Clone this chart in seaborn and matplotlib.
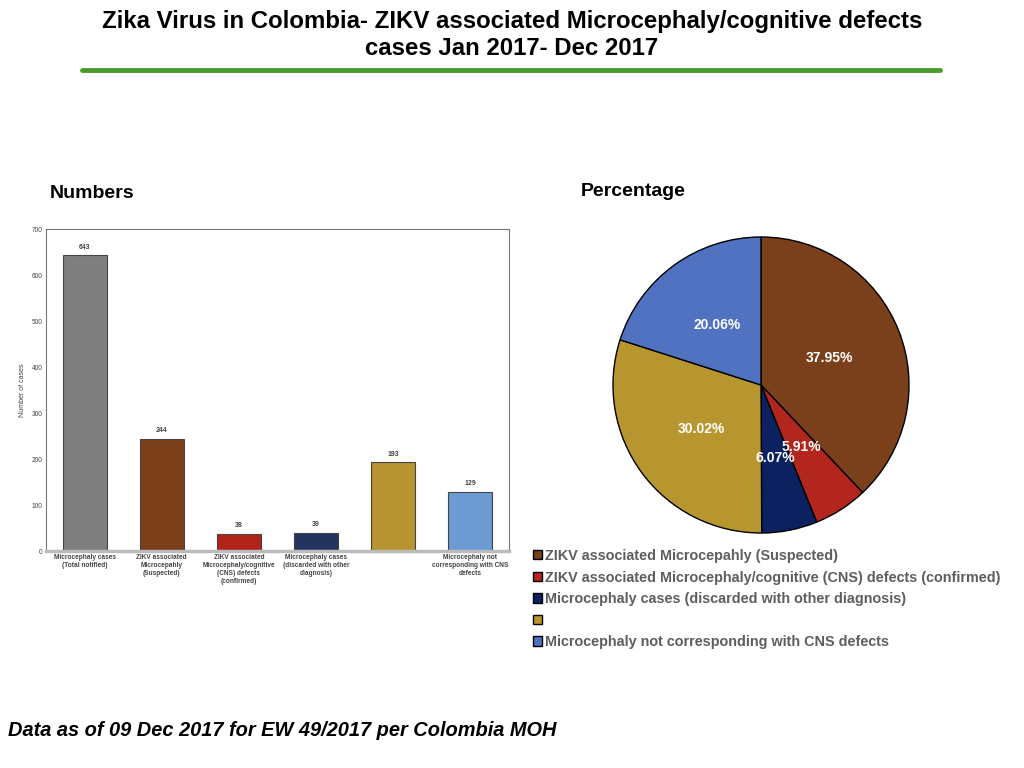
import matplotlib
matplotlib.use("Agg")
import matplotlib.pyplot as plt
from matplotlib.lines import Line2D
import pandas as pd
import seaborn as sns

# data
bar_categories = [
    "Microcephaly cases\n(Total notified)",
    "ZIKV associated\nMicrocepahly\n(Suspected)",
    "ZIKV associated\nMicrocephaly/cognitive\n(CNS) defects\n(confirmed)",
    "Microcephaly cases\n(discarded with other\ndiagnosis)",
    "",
    "Microcephaly not\ncorresponding with CNS\ndefects",
]
bar_values = [643, 244, 38, 39, 193, 129]
bar_colors = ["#7f7f7f", "#7b3f1a", "#b2231a", "#23345e", "#b89332", "#6b9bd2"]

pie_labels = [
    "ZIKV associated Microcepahly (Suspected)",
    "ZIKV associated Microcephaly/cognitive (CNS) defects (confirmed)",
    "Microcephaly cases (discarded with other diagnosis)",
    "",
    "Microcephaly not corresponding with CNS defects",
]
pie_values = [244, 38, 39, 193, 129]
pie_colors = ["#7a3f1b", "#b3261e", "#0b2160", "#b8962f", "#5072c0"]

sns.set_theme(style="white")
plt.rcParams["font.family"] = ["Liberation Sans", "DejaVu Sans"]
plt.rcParams["text.color"] = "black"

fig = plt.figure(figsize=(10.24, 7.68), dpi=100)

# titles
fig.text(0.5, 1 - 10 / 768, "Zika Virus in Colombia- ZIKV associated Microcephaly/cognitive defects\ncases Jan 2017- Dec 2017",
         ha="center", va="top", fontsize=17.3, fontweight="bold", linespacing=1.2)
fig.add_artist(Line2D([82 / 1024, 940 / 1024], [1 - 70 / 768, 1 - 70 / 768],
                      color="#4a9a2e", linewidth=3.5))
fig.text(50 / 1024, 1 - 193 / 768, "Numbers", ha="left", va="center",
         fontsize=14, fontweight="bold")
fig.text(581 / 1024, 1 - 191 / 768, "Percentage", ha="left", va="center",
         fontsize=14, fontweight="bold")
fig.text(8 / 1024, 1 - 730 / 768, "Data as of 09 Dec 2017 for EW 49/2017 per Colombia MOH",
         ha="left", va="center", fontsize=14.4, fontweight="bold", fontstyle="italic")

# bar chart
ax = fig.add_axes([46 / 1024, 1 - 551 / 768, 463 / 1024, 322 / 768])
df = pd.DataFrame({"category": bar_categories, "cases": bar_values})
sns.barplot(data=df, x="category", y="cases", hue="category", palette=bar_colors,
            saturation=1, legend=False, width=0.57, edgecolor="#444444",
            linewidth=0.8, ax=ax)
ax.set_ylim(0, 700)
ax.set_xlim(-0.5, 5.5)
ax.set_yticks(range(0, 701, 100))
ax.set_xlabel("")
ax.set_ylabel("Number of cases", fontsize=5, color="#444444")
ax.tick_params(axis="both", length=0, labelsize=4.7, labelcolor="#444444", pad=2.5)
for lbl in ax.get_xticklabels():
    lbl.set_fontweight("bold")
for spine in ax.spines.values():
    spine.set_color("#777777")
    spine.set_linewidth(0.8)
ax.spines["bottom"].set_color("#bbbbbb")
ax.spines["bottom"].set_linewidth(2.5)
for patch, val in zip(ax.patches, bar_values):
    ax.text(patch.get_x() + patch.get_width() / 2, val + 10, f"{val}",
            ha="center", va="bottom", fontsize=5, fontweight="bold", color="#444444")

# pie chart
pax = fig.add_axes([(761 - 150) / 1024, 1 - (385 + 150) / 768, 300 / 1024, 300 / 768])
wedges, texts, autotexts = pax.pie(
    pie_values, colors=pie_colors, startangle=90, counterclock=False,
    autopct="%.2f%%", pctdistance=0.5,
    wedgeprops={"edgecolor": "black", "linewidth": 1.0},
    textprops={"color": "white", "fontsize": 10, "fontweight": "bold"},
)
pax.set_xlim(-1.0135, 1.0135)
pax.set_ylim(-1.0135, 1.0135)
pax.set_aspect("equal")

leg = fig.legend(wedges, pie_labels, loc="upper left",
                 bbox_to_anchor=(533 / 1024, 1 - 549 / 768), frameon=False,
                 handlelength=0.6, handleheight=0.6, handletextpad=0.2,
                 labelspacing=0.52, borderaxespad=0, borderpad=0,
                 prop={"size": 10.4, "weight": "bold"})
for t in leg.get_texts():
    t.set_color("#5e5e5e")

fig.savefig("out.png", dpi=100)
